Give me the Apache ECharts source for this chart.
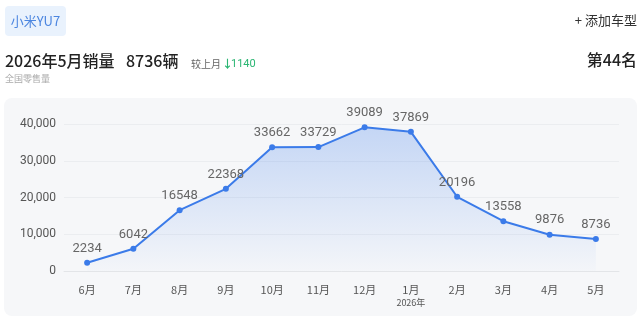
<!DOCTYPE html>
<html><head><meta charset="utf-8">
<script src="https://cdn.jsdelivr.net/npm/echarts@6/dist/echarts.min.js"></script>
<style>html,body{margin:0;padding:0;background:#fff}#c{width:642px;height:323px}</style>
</head><body><div id="c"></div>
<script>
var months = ['6月','7月','8月','9月','10月','11月','12月','1月','2月','3月','4月','5月'];
var sales = [2234, 6042, 16548, 22368, 33662, 33729, 39089, 37869, 20196, 13558, 9876, 8736];
var yTicks = [0, 10000, 20000, 30000, 40000];
var F = '"Noto Sans CJK SC","Noto Sans",sans-serif';
var FN = 'Roboto,"Noto Sans CJK SC",sans-serif';
var chart = echarts.init(document.getElementById('c'));
chart.setOption({
  animation:false,
  textStyle:{fontFamily:F},
  graphic:[
    {type:'rect',shape:{x:4,y:98,width:633,height:218,r:8},style:{fill:'#f6f7f9'},z:-10},
    {type:'rect',shape:{x:5,y:6,width:61,height:30,r:4},style:{fill:'#e9f2fd'}},
    {type:'text',x:35.5,y:21,style:{text:'小米YU7',fill:'#4c86e0',font:'13px '+F,align:'center',verticalAlign:'middle'}},
    {type:'text',x:637,y:20,style:{text:'+ 添加车型',fill:'#333',font:'13px '+F,align:'right',verticalAlign:'middle'}},
    {type:'text',x:5,y:61,style:{text:'2026年5月销量',fill:'#222',font:'500 16px '+F,verticalAlign:'middle'}},
    {type:'text',x:126,y:61,style:{text:'8736辆',fill:'#222',font:'500 16px '+F,verticalAlign:'middle'}},
    {type:'text',x:191,y:64,style:{text:'较上月',fill:'#666',font:'10px '+F,verticalAlign:'middle'}},
    {type:'text',x:222,y:64,style:{text:'↓',fill:'#2bb673',font:'bold 11px '+F,verticalAlign:'middle'}},
    {type:'text',x:231,y:64,style:{text:'1140',fill:'#2bb673',font:'11px '+FN,verticalAlign:'middle'}},
    {type:'text',x:5,y:79,style:{text:'全国零售量',fill:'#aaa',font:'9px '+F,verticalAlign:'middle'}},
    {type:'text',x:637,y:60,style:{text:'第44名',fill:'#222',font:'500 16px '+F,align:'right',verticalAlign:'middle'}}
  ],
  grid:{left:64,right:23,top:124,bottom:52},
  xAxis:{type:'category',data:months,boundaryGap:true,
    axisLine:{lineStyle:{color:'#e3e5e8'}},axisTick:{show:false},
    axisLabel:{interval:0,color:'#555',fontSize:11,margin:12,fontFamily:F,
      formatter:function(v){return v==='1月'?'{m|1月}\n{y|2026年}':'{m|'+v+'}';},
      rich:{m:{fontSize:11,color:'#555',lineHeight:14},y:{fontSize:9,color:'#555',lineHeight:12}}}},
  yAxis:{type:'value',min:yTicks[0],max:yTicks[yTicks.length-1],interval:10000,
    axisLabel:{color:'#555',fontSize:12,margin:8,fontFamily:FN,formatter:function(v){return v.toLocaleString('en-US');}},
    splitLine:{lineStyle:{color:'#ebedf0'}},axisLine:{show:false},axisTick:{show:false}},
  series:[{type:'line',data:sales,symbol:'circle',symbolSize:6,
    itemStyle:{color:'#3b7be9'},lineStyle:{color:'#3b7be9',width:2},
    label:{show:true,position:'top',distance:5,color:'#666',fontSize:13,fontFamily:FN},
    areaStyle:{color:new echarts.graphic.LinearGradient(0,0,0,1,[{offset:0,color:'rgba(59,123,233,0.38)'},{offset:1,color:'rgba(59,123,233,0.02)'}])}}]
});
</script></body></html>
